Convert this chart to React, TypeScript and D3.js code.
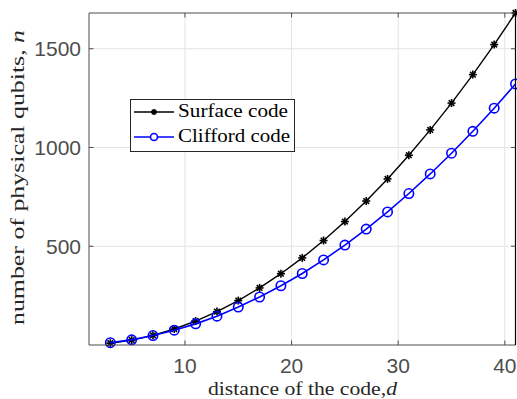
import React from "react";
import * as d3 from "d3";

const distances = [3, 5, 7, 9, 11, 13, 15, 17, 19, 21, 23, 25, 27, 29, 31, 33, 35, 37, 39, 41];
const surfaceQubits = [9, 25, 49, 81, 121, 169, 225, 289, 361, 441, 529, 625, 729, 841, 961, 1089, 1225, 1369, 1521, 1681];
const cliffordQubits = [12, 26, 48, 75, 107, 146, 192, 243, 300, 362, 431, 506, 587, 674, 767, 866, 971, 1082, 1199, 1322];
const xTicks = [10, 20, 30, 40];
const yTicks = [500, 1000, 1500];
const seriesNames = ["Surface code", "Clifford code"];

const W = 517, H = 399;
const M = { left: 89, right: 1.5, top: 13, bottom: 54 };

function Star({ x, y, r, color }: { x: number; y: number; r: number; color: string }) {
  const parts = [];
  for (let i = 0; i < 4; i++) {
    const a = (i * Math.PI) / 4;
    parts.push(
      <line key={i} x1={x - r * Math.cos(a)} y1={y - r * Math.sin(a)} x2={x + r * Math.cos(a)} y2={y + r * Math.sin(a)} stroke={color} strokeWidth={1.6} />
    );
  }
  return <g>{parts}</g>;
}

export default function App() {
  const x = d3.scaleLinear().domain([1, 41]).range([M.left, W - M.right]);
  const y = d3.scaleLinear().domain([0, 1681]).range([H - M.bottom, M.top]);
  const line = d3.line<[number, number]>().x((d) => x(d[0])).y((d) => y(d[1]));
  const sData = distances.map((d, i) => [d, surfaceQubits[i]] as [number, number]);
  const cData = distances.map((d, i) => [d, cliffordQubits[i]] as [number, number]);
  const x0 = M.left, x1 = W - M.right, y0 = H - M.bottom, y1 = M.top;
  const axisColor = "#4d4d4d";
  const tickStyle: React.CSSProperties = { fontFamily: "'Liberation Sans', Arial, sans-serif", fontSize: 21, fill: "#4d4d4d" };
  const serifStyle: React.CSSProperties = { fontFamily: "'Liberation Serif', 'Times New Roman', 'DejaVu Serif', serif" };
  return (
    <svg width={W} height={H} style={{ position: "absolute", left: 0, top: 0, background: "#fff" }}>
      {xTicks.map((t) => (
        <line key={"gx" + t} x1={x(t)} x2={x(t)} y1={y0} y2={y1} stroke="#e3e3e3" strokeWidth={1} />
      ))}
      {yTicks.map((t) => (
        <line key={"gy" + t} x1={x0} x2={x1} y1={y(t)} y2={y(t)} stroke="#e3e3e3" strokeWidth={1} />
      ))}
      <path d={line(sData) || ""} fill="none" stroke="#000" strokeWidth={1.4} />
      {sData.map((d, i) => (
        <Star key={"s" + i} x={x(d[0])} y={y(d[1])} r={4} color="#000" />
      ))}
      <path d={line(cData) || ""} fill="none" stroke="#0000ff" strokeWidth={1.6} />
      {cData.map((d, i) => (
        <circle key={"c" + i} cx={x(d[0])} cy={y(d[1])} r={4.7} fill="none" stroke="#0000ff" strokeWidth={1.6} />
      ))}
      <line x1={x0} x2={x1} y1={y0} y2={y0} stroke={axisColor} strokeWidth={1} />
      <line x1={x0} x2={x1} y1={y1} y2={y1} stroke={axisColor} strokeWidth={1} />
      <line x1={x0} x2={x0} y1={y0} y2={y1} stroke={axisColor} strokeWidth={1} />
      <line x1={x1} x2={x1} y1={y0} y2={y1} stroke="#000" strokeWidth={1.2} />
      {xTicks.map((t) => (
        <g key={"tx" + t}>
          <line x1={x(t)} x2={x(t)} y1={y0} y2={y0 - 4.5} stroke={axisColor} />
          <line x1={x(t)} x2={x(t)} y1={y1} y2={y1 + 4.5} stroke={axisColor} />
          <text x={x(t)} y={373} textAnchor="middle" style={tickStyle}>{t}</text>
        </g>
      ))}
      {yTicks.map((t) => (
        <g key={"ty" + t}>
          <line x1={x0} x2={x0 + 4.5} y1={y(t)} y2={y(t)} stroke={axisColor} />
          <line x1={x1} x2={x1 - 4.5} y1={y(t)} y2={y(t)} stroke={axisColor} />
          <text x={x0 - 8} y={y(t) + 7.5} textAnchor="end" style={tickStyle}>{t}</text>
        </g>
      ))}
      <text x={208} y={395} textLength={189} lengthAdjust="spacingAndGlyphs" style={{ ...serifStyle, fontSize: 18, fill: "#262626" }}>
        distance of the code,<tspan fontStyle="italic">d</tspan>
      </text>
      <text transform={`translate(24,325) rotate(-90)`} textLength={295} lengthAdjust="spacingAndGlyphs" style={{ ...serifStyle, fontSize: 18, fill: "#262626" }}>
        number of physical qubits, <tspan fontStyle="italic">n</tspan>
      </text>
      <g>
        <rect x={130.5} y={99.5} width={164} height={52} fill="#fff" stroke="#262626" strokeWidth={1} />
        <line x1={134} x2={174} y1={112} y2={112} stroke="#000" strokeWidth={1.4} />
        <Star x={154} y={112} r={3} color="#000" />
        <text x={178} y={117} textLength={110} lengthAdjust="spacingAndGlyphs" style={{ ...serifStyle, fontSize: 18, fill: "#000" }}>{seriesNames[0]}</text>
        <line x1={134} x2={174} y1={137} y2={137} stroke="#0000ff" strokeWidth={1.6} />
        <circle cx={154} cy={137} r={3.5} fill="#fff" stroke="#0000ff" strokeWidth={1.6} />
        <text x={178} y={142} textLength={112} lengthAdjust="spacingAndGlyphs" style={{ ...serifStyle, fontSize: 18, fill: "#000" }}>{seriesNames[1]}</text>
      </g>
    </svg>
  );
}
